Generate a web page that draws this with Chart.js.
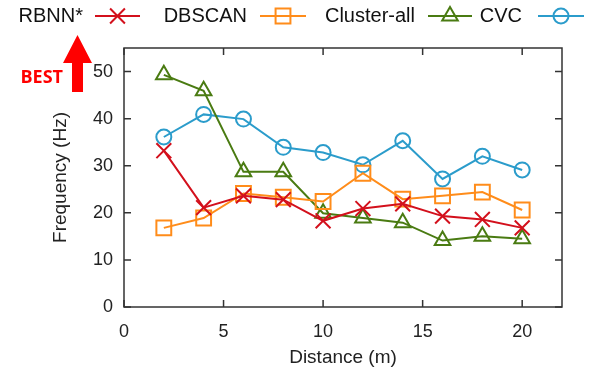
<!DOCTYPE html>
<html lang="en">
<head>
  <meta charset="UTF-8">
  <title>Frequency vs Distance</title>
  <script src="https://cdn.jsdelivr.net/npm/chart.js"></script>
  <style>
    html, body { margin: 0; padding: 0; background: #fff; }
    #wrap { width: 595px; height: 380px; position: relative; }
  </style>
</head>
<body>
<div id="wrap"><canvas id="chart" width="595" height="380"></canvas></div>
<script>
  // data
  const distances = [2, 4, 6, 8, 10, 12, 14, 16, 18, 20];
  const rbnn = [33.2, 21.1, 23.6, 22.8, 18.3, 20.9, 21.9, 19.3, 18.6, 16.8];
  const dbscan = [16.8, 18.9, 24.1, 23.3, 22.4, 28.4, 22.9, 23.6, 24.4, 20.6];
  const clusterAll = [49.3, 45.9, 28.7, 28.7, 19.9, 18.9, 17.9, 14.1, 15.0, 14.5];
  const cvc = [36.1, 40.9, 39.9, 33.9, 32.8, 30.2, 35.3, 27.2, 32.0, 29.1];
  const xTicks = [0, 5, 10, 15, 20];
  const yTicks = [0, 10, 20, 30, 40, 50];

  const FONT = '"Liberation Sans", Arial, sans-serif';
  const toXY = vals => vals.map((v, i) => ({ x: distances[i], y: v }));

  const mkSet = (label, vals, color, style, radius) => ({
    label: label,
    data: toXY(vals),
    borderColor: color,
    backgroundColor: 'rgba(0,0,0,0)',
    borderWidth: 2,
    pointStyle: style,
    pointRadius: radius,
    pointBorderWidth: 2,
    pointBackgroundColor: 'rgba(0,0,0,0)',
    pointBorderColor: color,
    tension: 0
  });

  const datasets = [
    mkSet('RBNN*', rbnn, '#d3101c', 'crossRot', 10.5),
    mkSet('DBSCAN', dbscan, '#ff8c1a', 'rect', 10.5),
    mkSet('Cluster-all', clusterAll, '#4a7b12', 'triangle', 9),
    mkSet('CVC', cvc, '#2b9ccb', 'circle', 7.5)
  ];

  // legend slots: text right edge, sample start, sample end
  const legendSlots = [[83, 95, 140], [247, 260, 306], [415, 428, 472], [522, 538, 584]];

  // gnuplot style frame with inward ticks on all four sides, legend and "BEST" arrow
  const decorations = {
    id: 'decorations',
    afterDraw(chart) {
      const ctx = chart.ctx;
      const a = chart.chartArea;
      const xs = chart.scales.x, ys = chart.scales.y;
      ctx.save();
      ctx.strokeStyle = '#333';
      ctx.lineWidth = 1.5;
      ctx.strokeRect(a.left, a.top, a.right - a.left, a.bottom - a.top);
      ctx.beginPath();
      xTicks.forEach(v => {
        const px = xs.getPixelForValue(v);
        ctx.moveTo(px, a.bottom); ctx.lineTo(px, a.bottom - 7);
        ctx.moveTo(px, a.top); ctx.lineTo(px, a.top + 7);
      });
      yTicks.forEach(v => {
        const py = ys.getPixelForValue(v);
        ctx.moveTo(a.left, py); ctx.lineTo(a.left + 7, py);
        ctx.moveTo(a.right, py); ctx.lineTo(a.right - 7, py);
      });
      ctx.stroke();

      // legend
      ctx.font = '20px ' + FONT;
      ctx.textAlign = 'right';
      ctx.textBaseline = 'middle';
      chart.data.datasets.forEach((ds, i) => {
        const [tx, s0, s1] = legendSlots[i];
        const ly = 16;
        ctx.fillStyle = '#111';
        ctx.fillText(ds.label, tx, ly);
        ctx.strokeStyle = ds.borderColor;
        ctx.lineWidth = 2;
        ctx.beginPath();
        ctx.moveTo(s0, ly); ctx.lineTo(s1, ly);
        ctx.stroke();
        ctx.fillStyle = 'rgba(0,0,0,0)';
        Chart.helpers.drawPoint(ctx, {
          pointStyle: ds.pointStyle, radius: ds.pointRadius, rotation: 0, borderWidth: 2
        }, (s0 + s1) / 2, ly);
      });

      // BEST arrow
      ctx.fillStyle = '#ff0000';
      ctx.beginPath();
      ctx.moveTo(77.5, 35);
      ctx.lineTo(92, 63);
      ctx.lineTo(83, 63);
      ctx.lineTo(83, 92);
      ctx.lineTo(72, 92);
      ctx.lineTo(72, 63);
      ctx.lineTo(63, 63);
      ctx.closePath();
      ctx.fill();
      ctx.font = 'bold 18px "Open Sans", ' + FONT;
      ctx.textAlign = 'right';
      ctx.fillText('BEST', 63, 78);
      ctx.restore();
    }
  };

  new Chart(document.getElementById('chart'), {
    type: 'line',
    data: { datasets: datasets },
    plugins: [decorations],
    options: {
      responsive: false,
      animation: false,
      layout: { padding: { left: 0, top: 48, right: 33, bottom: 0 } },
      plugins: { legend: { display: false }, tooltip: { enabled: false } },
      scales: {
        x: {
          type: 'linear',
          min: 0,
          max: 22,
          grid: { display: false },
          border: { display: false },
          afterBuildTicks: s => { s.ticks = xTicks.map(v => ({ value: v })); },
          afterFit: s => { s.height = 73; },
          ticks: { color: '#222', padding: 6, font: { family: FONT, size: 18 } },
          title: {
            display: true, text: 'Distance (m)', color: '#222',
            padding: { top: 0, bottom: 11 }, font: { family: FONT, size: 19 }
          }
        },
        y: {
          min: 0,
          max: 55,
          grid: { display: false },
          border: { display: false },
          afterBuildTicks: s => { s.ticks = yTicks.map(v => ({ value: v })); },
          afterFit: s => { s.width = 124; },
          ticks: { color: '#222', padding: 3, font: { family: FONT, size: 18 } },
          title: {
            display: true, text: 'Frequency (Hz)', color: '#222',
            padding: { top: 49, bottom: 0 }, font: { family: FONT, size: 19 }
          }
        }
      }
    }
  });
</script>
</body>
</html>
